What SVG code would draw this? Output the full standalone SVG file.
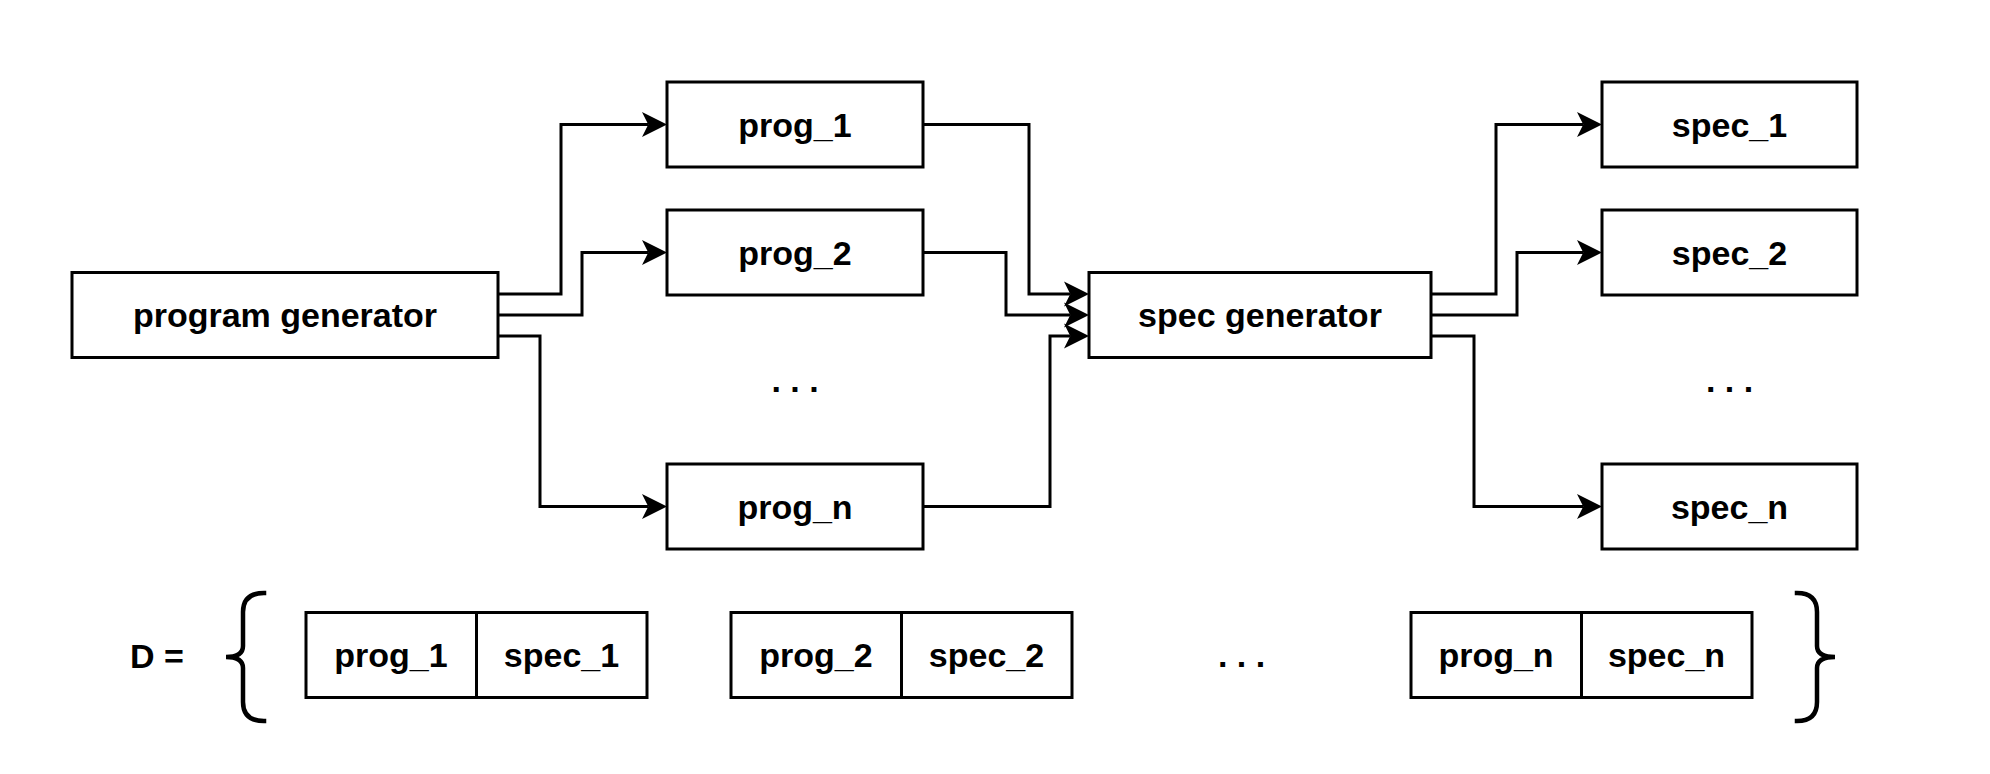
<svg xmlns="http://www.w3.org/2000/svg" width="1990" height="774" viewBox="0 0 1990 774">
<style>
.box{fill:#fff;stroke:#000;stroke-width:3}
.lbl{font-family:"Liberation Sans",Arial,Helvetica,sans-serif;font-weight:bold;font-size:34px;fill:#000;text-anchor:middle}
.edge{fill:none;stroke:#000;stroke-width:3;stroke-linejoin:miter}
.brace{fill:none;stroke:#000;stroke-width:4.5;stroke-linecap:square}
</style>
<defs>
<marker id="arr" markerUnits="userSpaceOnUse" viewBox="0 0 25 25" markerWidth="25" markerHeight="25" refX="6.25" refY="12.5" orient="auto" overflow="visible">
<path d="M25 12.5 L0 0 L6.25 12.5 L0 25 Z" fill="#000"/>
</marker>
</defs>
<rect width="1990" height="774" fill="#fff"/>
<g id="connectors">
<path class="edge" marker-end="url(#arr)" d="M498 294 H561 V124.5 H648.25"/>
<path class="edge" marker-end="url(#arr)" d="M498 315 H582 V252.5 H648.25"/>
<path class="edge" marker-end="url(#arr)" d="M498 336 H540 V506.5 H648.25"/>
<path class="edge" marker-end="url(#arr)" d="M923 124.5 H1029 V294 H1070.25"/>
<path class="edge" marker-end="url(#arr)" d="M923 252.5 H1006 V315 H1070.25"/>
<path class="edge" marker-end="url(#arr)" d="M923 506.5 H1050 V336 H1070.25"/>
<path class="edge" marker-end="url(#arr)" d="M1431 294 H1496 V124.5 H1583.25"/>
<path class="edge" marker-end="url(#arr)" d="M1431 315 H1517 V252.5 H1583.25"/>
<path class="edge" marker-end="url(#arr)" d="M1431 336 H1474 V506.5 H1583.25"/>
</g>
<g id="program-generator"><rect class="box" x="72" y="272.5" width="426" height="85"/><text class="lbl" x="285" y="327">program generator</text></g>
<g id="prog_1"><rect class="box" x="667" y="82" width="256" height="85"/><text class="lbl" x="795" y="136.5">prog_1</text></g>
<g id="prog_2"><rect class="box" x="667" y="210" width="256" height="85"/><text class="lbl" x="795" y="264.5">prog_2</text></g>
<g id="prog-dots"><text class="lbl" x="795" y="392">. . .</text></g>
<g id="prog_n"><rect class="box" x="667" y="464" width="256" height="85"/><text class="lbl" x="795" y="518.5">prog_n</text></g>
<g id="spec-generator"><rect class="box" x="1089" y="272.5" width="342" height="85"/><text class="lbl" x="1260" y="327">spec generator</text></g>
<g id="spec_1"><rect class="box" x="1602" y="82" width="255" height="85"/><text class="lbl" x="1729.5" y="136.5">spec_1</text></g>
<g id="spec_2"><rect class="box" x="1602" y="210" width="255" height="85"/><text class="lbl" x="1729.5" y="264.5">spec_2</text></g>
<g id="spec-dots"><text class="lbl" x="1729.5" y="392">. . .</text></g>
<g id="spec_n"><rect class="box" x="1602" y="464" width="255" height="85"/><text class="lbl" x="1729.5" y="518.5">spec_n</text></g>
<g id="d-label"><text class="lbl" x="157" y="668">D =</text></g>
<g id="brace-left"><path class="brace" d="M264 593 Q243 593 243 612 L243 646 Q243 657 226 657 Q243 657 243 668 L243 702 Q243 721 264 721"/></g>
<g id="pair_1"><rect class="box" x="306" y="612.5" width="170.5" height="85"/><rect class="box" x="476.5" y="612.5" width="170.5" height="85"/><text class="lbl" x="391" y="667">prog_1</text><text class="lbl" x="561.5" y="667">spec_1</text></g>
<g id="pair_2"><rect class="box" x="731" y="612.5" width="170.5" height="85"/><rect class="box" x="901.5" y="612.5" width="170.5" height="85"/><text class="lbl" x="816" y="667">prog_2</text><text class="lbl" x="986.5" y="667">spec_2</text></g>
<g id="pair-dots"><text class="lbl" x="1241.5" y="667">. . .</text></g>
<g id="pair_n"><rect class="box" x="1411" y="612.5" width="170.5" height="85"/><rect class="box" x="1581.5" y="612.5" width="170.5" height="85"/><text class="lbl" x="1496" y="667">prog_n</text><text class="lbl" x="1666.5" y="667">spec_n</text></g>
<g id="brace-right"><path class="brace" d="M1797 593 Q1817 593 1817 612 L1817 646 Q1817 657 1835 657 Q1817 657 1817 668 L1817 702 Q1817 721 1797 721"/></g>
</svg>
